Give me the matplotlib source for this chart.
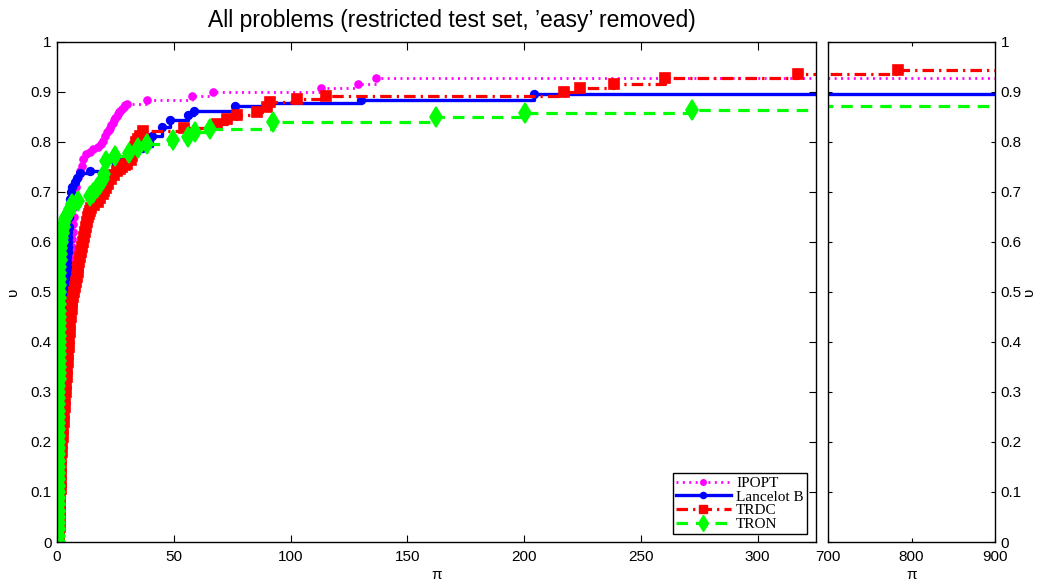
import numpy as np
import matplotlib
matplotlib.use("Agg")
import matplotlib.pyplot as plt
from matplotlib.lines import Line2D

plt.rcParams['font.family'] = ['Liberation Sans', 'DejaVu Sans']

title = "All problems (restricted test set, \u2019easy\u2019 removed)"
series_names = ["IPOPT", "Lancelot B", "TRDC", "TRON"]

ipopt_x = [1.0, 1.1, 1.2, 1.3, 1.4, 1.5, 1.6, 1.7, 1.8, 1.9, 2.0, 2.15, 2.3, 2.45, 2.6, 2.8, 3.0, 3.15, 3.3, 3.45, 3.6, 3.75,
           3.9, 4.05, 4.2, 4.35, 4.5, 4.65, 4.8, 5.0, 5.2, 5.4, 5.6, 5.8, 6.0, 6.2, 6.4, 6.6, 6.8, 7.0, 7.2, 7.45, 7.7,
           8.3, 9.1, 10.0, 10.6, 11.3, 12.5, 14.0, 15.6, 17.5, 18.8, 19.9, 20.6, 21.5, 22.1, 22.7, 23.3, 23.8, 24.4,
           24.9, 25.5, 26.0, 26.5, 27.0, 27.8, 28.5, 29.2, 29.9, 38.4, 57.7, 66.7, 113.0, 128.9, 136.8]
ipopt_y = [0.0, 0.02, 0.04, 0.06, 0.08, 0.10, 0.12, 0.14, 0.16, 0.18, 0.20, 0.22, 0.24, 0.26, 0.28, 0.30, 0.32, 0.34, 0.36, 0.38, 0.40, 0.415,
           0.43, 0.445, 0.46, 0.475, 0.49, 0.50, 0.51, 0.52, 0.53, 0.54, 0.55, 0.56, 0.57, 0.58, 0.59, 0.605, 0.62, 0.635, 0.65, 0.67, 0.69,
           0.71, 0.73, 0.742, 0.752, 0.765, 0.775, 0.78, 0.786, 0.79, 0.796, 0.802, 0.812, 0.82, 0.824, 0.828, 0.833, 0.838, 0.843,
           0.848, 0.852, 0.856, 0.859, 0.862, 0.866, 0.87, 0.873, 0.876, 0.884, 0.892, 0.9, 0.908, 0.916, 0.927]

lancelot_x = [1.0, 1.1, 1.2, 1.3, 1.4, 1.5, 1.6, 1.7, 1.8, 1.9, 2.0, 2.1, 2.2, 2.3, 2.4, 2.5, 2.6, 2.7, 2.8, 2.9, 3.0, 3.1,
              3.2, 3.3, 3.4, 3.5, 3.6, 3.7, 3.8, 3.9, 4.0, 4.1, 4.2, 4.3, 4.4, 4.5, 4.6, 4.7, 4.8, 4.9, 5.0, 5.2, 5.4, 5.6,
              5.8, 6.5, 7.5, 8.4, 9.9, 14.1, 24.0, 30.0, 34.0, 37.0, 40.6, 44.9, 48.5, 56.3, 58.5, 76.4, 91.4, 130.0, 204.3]
lancelot_y = [0.0, 0.02, 0.04, 0.06, 0.08, 0.10, 0.12, 0.14, 0.16, 0.18, 0.20, 0.22, 0.24, 0.26, 0.28, 0.30, 0.32, 0.34, 0.36, 0.38, 0.40, 0.415,
              0.43, 0.445, 0.46, 0.475, 0.49, 0.50, 0.51, 0.52, 0.53, 0.54, 0.55, 0.56, 0.57, 0.58, 0.59, 0.60, 0.61, 0.62, 0.63, 0.65, 0.67, 0.685,
              0.70, 0.71, 0.72, 0.728, 0.738, 0.742, 0.766, 0.772, 0.782, 0.792, 0.812, 0.83, 0.843, 0.853, 0.862, 0.871, 0.877, 0.883, 0.895]

trdc_x = [1.0, 1.05, 1.1, 1.15, 1.2, 1.3, 1.4, 1.5, 1.6, 1.7, 1.8, 1.9, 2.0, 2.2, 2.4, 2.65, 2.9, 3.15, 3.4, 3.6, 3.8, 4.0,
          4.2, 4.4, 4.6, 4.8, 5.0, 5.25, 5.5, 5.75, 6.0, 6.25, 6.5, 6.85, 7.2, 7.6, 8.0, 8.4, 8.8, 9.2, 9.6, 10.0, 10.4,
          10.8, 11.2, 11.6, 12.0, 12.4, 12.8, 13.2, 13.6, 14.0, 14.5, 16.0, 17.5, 18.5, 19.5, 20.3, 21.0, 22.0, 23.0, 24.3,
          25.6, 27.0, 28.0, 29.0, 30.0, 31.5, 32.2, 32.7, 33.4, 34.0, 34.8, 35.6, 37.0, 54.3, 68.4, 72.7, 77.0, 85.6, 89.9,
          91.3, 102.7, 115.0, 217.0, 224.0, 238.4, 260.3, 317.5, 784.0]
trdc_y = [0.0, 0.015, 0.03, 0.045, 0.06, 0.075, 0.09, 0.105, 0.12, 0.135, 0.15, 0.165, 0.18, 0.195, 0.21, 0.225, 0.24, 0.255, 0.27, 0.285, 0.30, 0.315,
          0.33, 0.345, 0.36, 0.375, 0.39, 0.405, 0.42, 0.435, 0.45, 0.465, 0.48, 0.49, 0.50, 0.51, 0.52, 0.53, 0.54, 0.55, 0.56, 0.57, 0.58,
          0.59, 0.60, 0.61, 0.62, 0.63, 0.64, 0.65, 0.655, 0.662, 0.668, 0.674, 0.68, 0.688, 0.695, 0.702, 0.708, 0.716, 0.725, 0.734,
          0.742, 0.746, 0.75, 0.753, 0.756, 0.763, 0.772, 0.782, 0.79, 0.80, 0.806, 0.812, 0.822, 0.828, 0.836, 0.846, 0.853, 0.86, 0.87,
          0.88, 0.885, 0.892, 0.899, 0.907, 0.916, 0.927, 0.935, 0.943]

tron_x = [1.0, 1.0, 1.0, 1.0, 1.0, 1.0, 1.0, 1.0, 1.0, 1.0, 1.0, 1.0, 1.0, 1.0, 1.0, 1.0, 1.0, 1.0, 1.0, 1.0, 1.0, 1.02,
          1.04, 1.05, 1.06, 1.07, 1.08, 1.09, 1.1, 1.1, 1.1, 1.12, 1.14, 1.16, 1.18, 1.2, 1.22, 1.24, 1.26, 1.28, 1.3, 1.33,
          1.36, 1.4, 1.45, 1.5, 1.65, 1.8, 2.0, 2.2, 2.5, 2.8, 3.2, 3.5, 4.0, 4.5, 5.0, 5.6, 6.5, 9.0, 14.0, 15.5, 17.0,
          18.5, 19.7, 20.3, 21.0, 24.8, 31.0, 34.6, 38.5, 49.6, 56.0, 59.0, 65.4, 92.5, 162.2, 200.3, 271.7, 500.0]
tron_y = [0.0, 0.0125, 0.025, 0.0375, 0.05, 0.0625, 0.075, 0.0875, 0.1, 0.1125, 0.125, 0.1375, 0.15, 0.1625, 0.175, 0.1875, 0.2, 0.2125, 0.225, 0.2375, 0.25, 0.2625,
          0.275, 0.2875, 0.3, 0.3125, 0.325, 0.3375, 0.35, 0.3625, 0.375, 0.3875, 0.4, 0.4125, 0.425, 0.4375, 0.45, 0.4625, 0.475, 0.4875, 0.5, 0.5125,
          0.525, 0.5375, 0.55, 0.5625, 0.575, 0.5875, 0.6, 0.608, 0.618, 0.63, 0.638, 0.645, 0.65, 0.655, 0.66, 0.665, 0.675, 0.682, 0.692, 0.698, 0.707,
          0.716, 0.726, 0.736, 0.762, 0.772, 0.778, 0.788, 0.796, 0.803, 0.81, 0.82, 0.826, 0.84, 0.849, 0.857, 0.863, 0.871]

left_xticks = [0, 50, 100, 150, 200, 250, 300]
right_xticks = [700, 800, 900]
yticks = [0, 0.1, 0.2, 0.3, 0.4, 0.5, 0.6, 0.7, 0.8, 0.9, 1.0]
ytick_labels = ["0", "0.1", "0.2", "0.3", "0.4", "0.5", "0.6", "0.7", "0.8", "0.9", "1"]

styles = [
    dict(color=(1, 0, 1), ls=(0, (0.7, 1.6)), marker='o', ms=5, lw=2.0),
    dict(color=(0, 0, 1), ls='-', marker='o', ms=5.5, lw=2.4),
    dict(color=(1, 0, 0), ls=(0, (3.6, 1.6, 0.7, 1.6)), marker='s', ms=7, lw=2.3),
    dict(color=(0, 1, 0), ls=(0, (3.6, 2.5)), marker='d', ms=10.5, lw=2.3),
]
data = [(ipopt_x, ipopt_y), (lancelot_x, lancelot_y), (trdc_x, trdc_y), (tron_x, tron_y)]

fig = plt.figure(figsize=(10.43, 5.81), dpi=100)
W, H = 1043, 581
axL = fig.add_axes([57 / W, 39 / H, 759 / W, 500.5 / H])
axR = fig.add_axes([828 / W, 39 / H, 167 / W, 500.5 / H])

for ax in (axL, axR):
    for (xs, ys), st in zip(data, styles):
        xl = list(xs) + [2000.0]
        yl = list(ys) + [ys[-1]]
        ax.plot(xl, yl, drawstyle='steps-post', color=st['color'], ls=st['ls'], lw=st['lw'],
                marker=st['marker'], ms=st['ms'], mfc=st['color'], mec=st['color'], mew=1.2,
                markevery=list(range(len(xs))))
    ax.set_ylim(0, 1)
    ax.set_yticks(yticks)
    for sp in ax.spines.values():
        sp.set_linewidth(1.0)

axL.set_xlim(0, 325)
axL.set_xticks(left_xticks)
axL.set_xticklabels([str(t) for t in left_xticks])
axL.set_yticklabels(ytick_labels)
axL.tick_params(direction='in', top=True, right=True, length=5.4, width=0.8, labelsize=11, pad=4)
axL.tick_params(axis='x', pad=6)

axR.set_xlim(700, 900)
axR.set_xticks(right_xticks)
axR.set_xticklabels([str(t) for t in right_xticks])
axR.yaxis.tick_right()
axR.set_yticklabels(ytick_labels)
axR.tick_params(direction='in', top=True, left=True, right=True, labelleft=False, labelright=True,
                length=3.2, width=0.8, labelsize=11, pad=4)
axR.tick_params(axis='x', pad=6)

axL.set_xlabel("\u03c0", fontsize=11, va='center')
axL.xaxis.set_label_coords(0.5, -(575 - 542) / 500.5)
axR.set_xlabel("\u03c0", fontsize=11, va='center')
axR.xaxis.set_label_coords(0.5, -(575 - 542) / 500.5)
axL.set_ylabel("\u03c5", fontsize=11, va='center')
axL.yaxis.set_label_coords(-(57 - 13) / 759, 0.5)
axR.yaxis.set_label_position('right')
axR.set_ylabel("\u03c5", fontsize=11, va='center', rotation=90)
axR.yaxis.set_label_coords((1029 - 828) / 167, 0.5)

fig.text(452 / W, 1 - 20 / H, title, ha='center', va='center', fontsize=16.5)

handles = [Line2D([0], [0], color=st['color'], ls=st['ls'], lw=st['lw'], marker=st['marker'],
                  ms=st['ms'] * 0.8, mfc=st['color'], mec=st['color']) for st in styles]
leg = axL.legend(handles, series_names, loc='lower right', bbox_to_anchor=(0.988, 0.016),
                 borderaxespad=0, prop={'family': 'Liberation Serif', 'size': 11},
                 labelspacing=0.0, handlelength=3.6, handletextpad=0.35, borderpad=0.2,
                 fancybox=False, framealpha=1, edgecolor='black', numpoints=1)
leg.get_frame().set_linewidth(1.0)

fig.savefig("out.png", dpi=100)
